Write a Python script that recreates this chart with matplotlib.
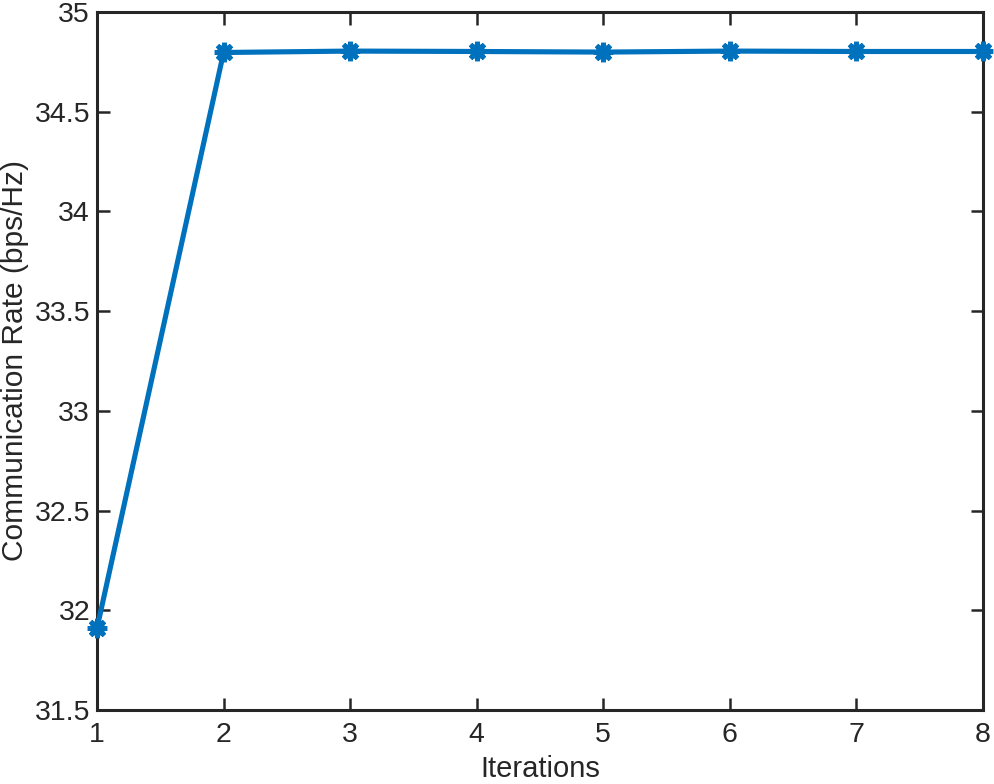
import matplotlib
matplotlib.use("Agg")
import matplotlib.pyplot as plt

iterations = [1, 2, 3, 4, 5, 6, 7, 8]
rate = [31.91, 34.797, 34.804, 34.802, 34.799, 34.804, 34.802, 34.802]
xticks = [1, 2, 3, 4, 5, 6, 7, 8]
yticks = [31.5, 32, 32.5, 33, 33.5, 34, 34.5, 35]
ytick_labels = ["31.5", "32", "32.5", "33", "33.5", "34", "34.5", "35"]

plt.rcParams['font.family'] = ['Liberation Sans', 'DejaVu Sans']

fig = plt.figure(figsize=(9.95, 7.84), dpi=100)
ax = fig.add_axes([0.0975, 0.0944, 0.8905, 0.8903])

color = '#0072BD'
ax.plot(iterations, rate, color=color, lw=3.7, clip_on=False, zorder=3)
ax.plot(iterations, rate, linestyle='none', marker=(8, 2, 0), ms=14, mew=3.5,
        mec=color, mfc=color, clip_on=False, zorder=4)
ax.plot(iterations, rate, linestyle='none', marker='o', ms=10,
        mec=color, mfc=color, clip_on=False, zorder=4)

ax.set_xlim(1, 8)
ax.set_ylim(31.5, 35)
ax.set_xticks(xticks)
ax.set_yticks(yticks)
ax.set_yticklabels(ytick_labels)

ax.tick_params(direction='in', length=9, width=1.8, colors='#262626',
               labelsize=20.5, top=True, right=True, pad=5)
ax.tick_params(axis='x', pad=9)
for s in ax.spines.values():
    s.set_linewidth(2.2)
    s.set_color('#262626')

ax.set_xlabel('Iterations', fontsize=21, color='#262626', labelpad=5)
ax.set_ylabel('Communication Rate (bps/Hz)', fontsize=21.5, color='#262626', labelpad=4)

fig.savefig('out.png', dpi=100)
